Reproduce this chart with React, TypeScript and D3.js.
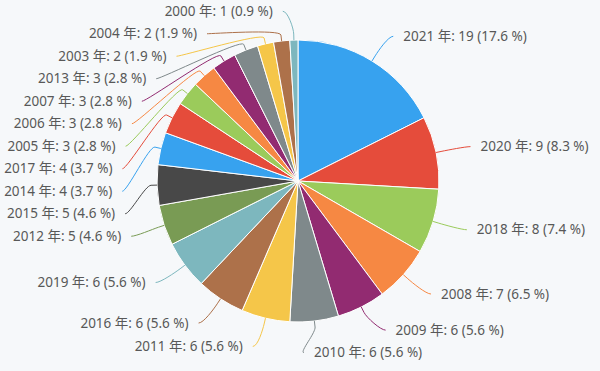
import React, { useEffect } from "react";
import * as d3 from "d3";

// year labels, counts (already sorted big -> small, ties as in the source)
const years = [
  "2021", "2020", "2018", "2008", "2009", "2010", "2011", "2016", "2019", "2012",
  "2015", "2014", "2017", "2005", "2006", "2007", "2013", "2003", "2004", "2000",
];
const counts = [19, 9, 8, 7, 6, 6, 6, 6, 6, 5, 5, 4, 4, 3, 3, 3, 3, 2, 2, 1];
const palette = [
  "#37a2ef", "#e54c3b", "#9bcb5b", "#f68843", "#922b71", "#7f898b",
  "#f5c649", "#ad714a", "#7db7be", "#799b54", "#484848",
];

const W = 600;
const H = 371;
const cx = 298;
const cy = 181;
const radius = 141;
const labelDist = 170;
const lineH = 22.5;

type Lab = { i: number; side: number; target: number; y: number };

// push overlapping labels apart, groups keep their mean position
const distribute = (labs: Lab[]) => {
  labs.sort((a, b) => a.target - b.target);
  let groups = labs.map(l => ({ items: [l], pos: l.target - lineH / 2 }));
  let moved = true;
  while (moved) {
    moved = false;
    groups.forEach(g => {
      const size = g.items.length * lineH;
      const mean = d3.mean(g.items, d => d.target) as number;
      g.pos = Math.max(0, Math.min(H - size, mean - size / 2));
    });
    for (let k = 0; k < groups.length - 1; k++) {
      const a = groups[k];
      const b = groups[k + 1];
      if (a.pos + a.items.length * lineH > b.pos + 0.01) {
        a.items = a.items.concat(b.items);
        groups.splice(k + 1, 1);
        moved = true;
        break;
      }
    }
  }
  groups.forEach(g => g.items.forEach((l, j) => (l.y = g.pos + lineH * j + lineH / 2)));
};

const App = () => {
  useEffect(() => {
    document.body.style.margin = "0";
    document.body.style.background = "#f6f8fa";
  }, []);

  const total = d3.sum(counts);
  const arcs = d3.pie<number>().sort(null).value(d => d)(counts);
  const arcGen = d3.arc<d3.PieArcDatum<number>>().innerRadius(0).outerRadius(radius);

  const labs: Lab[] = arcs.map((a, i) => {
    const mid = (a.startAngle + a.endAngle) / 2;
    return { i, side: mid < Math.PI ? 1 : -1, target: cy - labelDist * Math.cos(mid), y: 0 };
  });
  distribute(labs.filter(l => l.side > 0));
  distribute(labs.filter(l => l.side < 0));

  const pt = (ang: number, rr: number) => [cx + rr * Math.sin(ang), cy - rr * Math.cos(ang)];

  return (
    <svg width={W} height={H} style={{ display: "block", background: "#f6f8fa" }}>
      <g transform={`translate(${cx},${cy})`}>
        {arcs.map((a, i) => (
          <path key={i} d={arcGen(a) || ""} fill={palette[i % palette.length]} stroke="#fff" strokeWidth={1} strokeLinejoin="round" />
        ))}
      </g>
      {labs.map(l => {
        const a = arcs[l.i];
        const mid = (a.startAngle + a.endAngle) / 2;
        const dy = l.y - cy;
        const dx = Math.sqrt(Math.max(0, labelDist * labelDist - dy * dy));
        const endX = cx + l.side * (dx + 6);
        const textX = cx + l.side * (dx + 16);
        const touch = pt(mid, radius);
        const brk = pt(mid, radius + 6);
        const ctl = pt(mid, radius + 12);
        const path = d3.path();
        path.moveTo(endX, l.y);
        path.bezierCurveTo(endX - l.side * 5, l.y, ctl[0], ctl[1], brk[0], brk[1]);
        path.lineTo(touch[0], touch[1]);
        const pct = ((counts[l.i] / total) * 100).toFixed(1);
        return (
          <g key={l.i}>
            <path d={path.toString()} fill="none" stroke={palette[l.i % palette.length]} strokeWidth={1} />
            <text
              x={textX}
              y={l.y + 1}
              textAnchor={l.side > 0 ? "start" : "end"}
              dominantBaseline="middle"
              fontFamily="'Noto Sans', 'Noto Sans CJK JP', sans-serif"
              fontSize={13.5}
              fill="#585858"
            >
              {`${years[l.i]} 年: ${counts[l.i]} (${pct} %)`}
            </text>
          </g>
        );
      })}
    </svg>
  );
};

export default App;
